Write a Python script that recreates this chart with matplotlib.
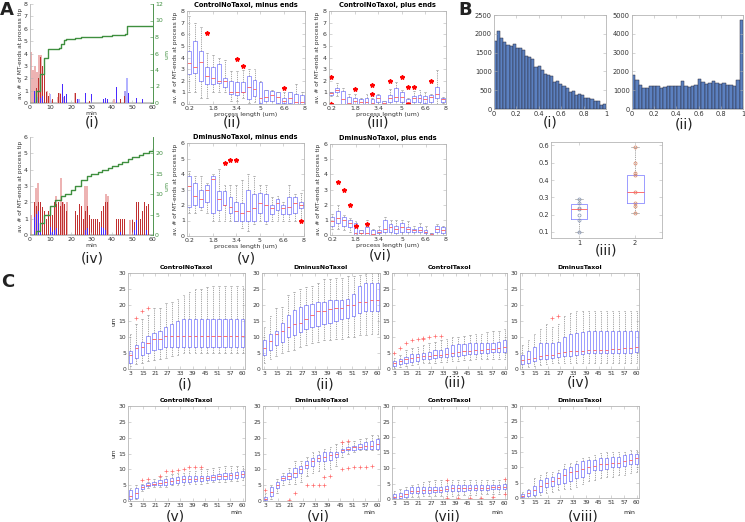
import numpy as np
import matplotlib.pyplot as plt

# ---------------- data ----------------
# A(i) ControlNoTaxol time course (bars per minute, left axis) + green length (right axis, um)
ai_pink_t = [0.5, 1.5, 2.5, 3.5, 4.5, 5.5, 8.5, 9.5, 13.5, 14.5, 16.5, 22.0, 41.0, 46.5]
ai_pink_h = [4.1, 2.7, 3.0, 2.5, 3.9, 3.9, 1.0, 0.8, 0.5, 0.8, 0.5, 0.8, 0.3, 1.0]
ai_red_t = [1, 2, 3, 4, 5, 6, 7, 8, 9, 11, 14, 15, 22, 29, 36, 41, 44, 46]
ai_red_h = [1.0, 0.8, 1.2, 2.0, 3.7, 3.0, 2.3, 0.9, 0.6, 0.3, 0.8, 0.7, 0.8, 0.2, 0.2, 0.3, 0.3, 0.6]
ai_blue_t = [2, 3, 5, 6, 16, 17, 18, 21, 23, 27, 30, 36, 37, 38, 40, 42, 48, 52, 55, 59]
ai_blue_h = [1.0, 0.7, 0.4, 0.6, 1.5, 0.6, 0.7, 0.4, 0.3, 0.8, 0.7, 0.3, 0.4, 0.3, 1.0, 1.3, 0.8, 0.4, 0.3, 0.3]
ai_lblue_t = [4, 10, 24, 46.5, 47.5]
ai_lblue_h = [0.5, 0.7, 0.3, 1.0, 2.0]
ai_len_t = [0, 1.5, 3, 5, 7, 9, 12, 14, 15, 16.5, 17.5, 22, 25, 30, 35, 40, 45, 46.5, 47.5, 55, 60]
ai_len_v = [0, 0, 1.5, 3.5, 5.5, 6.5, 6.6, 6.7, 7.1, 7.6, 7.8, 7.9, 8.0, 8.05, 8.15, 8.3, 8.3, 8.4, 9.3, 9.3, 9.3]

# A(iv) DminusNoTaxol time course
aiv_red_h = [1.0, 2.0, 2.0, 1.8, 2.0, 2.0, 1.7, 1.5, 1.0, 1.5, 1.8, 1.2, 2.0, 1.9, 2.0, 1.8, 2.0, 1.9, 1.5, 1.0,
             2.1, 1.8, 1.5, 1.2, 1.9, 1.8, 1.0, 1.5, 1.8, 1.2, 1.0, 1.0, 1.0, 1.0, 0.8, 1.5, 1.8, 2.0, 2.0, 1.0,
             0.8, 1.0, 1.0, 1.0, 1.0, 1.0, 1.0, 0.0, 0.0, 0.0, 0.9, 0.8, 2.0, 2.0, 1.0, 1.5, 2.0, 1.8, 1.9, 2.0]
aiv_pink_t = [0.5, 3.0, 4.0, 12.5, 15.0, 16.0, 18.0, 27.0, 28.0, 37.0, 38.0, 49.0, 50.0]
aiv_pink_h = [1.2, 2.9, 3.2, 2.4, 3.5, 2.0, 2.0, 3.0, 3.0, 2.5, 2.4, 0.9, 1.0]
aiv_blue_t = [1, 2, 3, 4, 5, 10, 11, 12, 13, 27, 28, 35, 36, 37, 44, 51, 52, 57]
aiv_blue_h = [0.2, 1.1, 1.3, 1.5, 0.3, 0.5, 0.2, 0.3, 0.4, 0.3, 0.4, 0.5, 0.4, 0.3, 0.2, 0.3, 0.9, 0.3]
aiv_len_t = [0, 2, 3, 5, 7, 10, 12, 15, 17, 20, 22, 25, 28, 30, 33, 35, 38, 40, 43, 45, 48, 50, 53, 55, 58, 60]
aiv_len_v = [0, 0, 1, 3, 5, 7, 8.5, 9.5, 10, 11, 12, 13.5, 14.5, 15, 15.5, 16, 16.5, 17, 17.5, 18, 18.5, 19,
             19.5, 20, 20.5, 21]

# A box plots: process length bins
plen = [0.2 + 0.4 * i for i in range(20)]

aii_q1 = [2.6, 2.7, 2.0, 1.7, 1.7, 1.8, 1.5, 0.9, 0.8, 1.0, 0.4, 0.7, 0.1, 0.3, 0.3, 0.1, 0.1, 0.1, 0.0, 0.0]
aii_med = [3.5, 3.2, 3.6, 2.4, 2.2, 2.0, 2.0, 1.0, 1.0, 1.0, 1.5, 1.3, 0.5, 0.6, 0.8, 0.6, 0.3, 0.5, 0.2, 0.2]
aii_q3 = [4.6, 5.4, 4.6, 3.2, 3.2, 3.4, 2.2, 2.0, 1.9, 1.9, 2.4, 2.1, 1.9, 1.2, 1.1, 1.0, 0.5, 1.0, 0.9, 0.8]
aii_lo = [1.0, 1.0, 0.5, 0.5, 1.0, 1.0, 1.0, 0.3, 0.3, 0.5, 0.1, 0.2, 0.0, 0.0, 0.0, 0.0, 0.0, 0.0, 0.0, 0.0]
aii_hi = [7.6, 7.0, 6.6, 4.4, 4.2, 4.0, 3.8, 2.8, 2.8, 2.9, 3.0, 3.0, 2.0, 1.2, 1.2, 1.0, 1.0, 1.0, 1.7, 1.0]
aii_out = {3: [6.1], 8: [3.9], 9: [3.3], 16: [1.4]}

aiii_q1 = [0.8, 1.0, 0.0, 0.0, 0.0, 0.0, 0.0, 0.0, 0.2, 0.0, 0.2, 0.3, 0.2, 0.1, 0.2, 0.2, 0.1, 0.2, 0.5, 0.2]
aiii_med = [0.95, 1.2, 0.4, 0.1, 0.3, 0.2, 0.2, 0.1, 0.5, 0.1, 0.5, 0.6, 0.6, 0.2, 0.5, 0.5, 0.4, 0.6, 0.9, 0.4]
aiii_q3 = [1.0, 1.4, 1.1, 0.6, 0.5, 0.4, 0.5, 0.4, 0.8, 0.3, 0.8, 1.4, 1.0, 0.4, 0.7, 0.8, 0.7, 0.8, 1.5, 0.5]
aiii_lo = [0.7, 0.7, 0.0, 0.0, 0.0, 0.0, 0.0, 0.0, 0.0, 0.0, 0.0, 0.0, 0.0, 0.0, 0.0, 0.0, 0.0, 0.0, 0.0, 0.1]
aiii_hi = [1.0, 1.8, 1.4, 0.9, 0.9, 0.5, 0.9, 0.5, 0.9, 0.3, 1.3, 1.9, 1.2, 0.5, 1.1, 1.2, 1.0, 0.9, 2.9, 0.6]
aiii_out = {0: [2.3, 0.0], 4: [1.3], 7: [1.6, 0.9], 10: [2.0], 12: [2.3], 13: [1.5, 0.0], 14: [1.5], 17: [2.0]}

av_q1 = [1.9, 2.0, 1.9, 2.2, 1.5, 1.7, 2.0, 1.5, 1.0, 1.0, 1.0, 1.0, 1.5, 1.0, 1.4, 1.7, 1.4, 1.4, 1.5, 1.8]
av_med = [3.2, 2.6, 2.4, 3.0, 3.7, 2.4, 2.0, 1.9, 1.6, 1.5, 1.6, 1.8, 2.1, 2.0, 1.8, 2.1, 1.8, 1.9, 2.1, 2.0]
av_q3 = [3.9, 3.4, 3.0, 3.3, 3.9, 2.9, 2.9, 2.5, 2.2, 2.1, 3.0, 2.7, 2.8, 2.7, 2.0, 2.4, 2.0, 2.5, 2.5, 2.2]
av_lo = [1.5, 1.5, 1.7, 1.5, 1.0, 1.0, 1.0, 1.0, 1.0, 0.5, 0.3, 0.8, 1.0, 0.8, 1.0, 1.0, 1.0, 1.0, 1.0, 1.0]
av_hi = [4.2, 3.9, 3.9, 3.4, 4.0, 4.3, 3.3, 3.3, 3.3, 3.6, 4.0, 3.9, 3.3, 3.3, 2.5, 2.6, 2.2, 3.3, 2.7, 2.8]
av_out = {6: [4.7], 7: [4.9], 8: [4.9], 19: [1.0]}

avi_q1 = [0.6, 0.8, 0.6, 0.5, 0.0, 0.1, 0.0, 0.0, 0.1, 0.2, 0.2, 0.1, 0.2, 0.2, 0.2, 0.2, 0.1, 0.0, 0.2, 0.1]
avi_med = [0.9, 1.1, 1.0, 0.8, 0.1, 0.1, 0.1, 0.05, 0.2, 0.4, 0.5, 0.4, 0.5, 0.4, 0.3, 0.3, 0.2, 0.05, 0.4, 0.3]
avi_q3 = [1.2, 1.6, 1.2, 1.0, 0.8, 0.3, 0.5, 0.3, 0.3, 1.0, 0.7, 0.6, 0.8, 0.5, 0.4, 0.5, 0.3, 0.1, 0.6, 0.5]
avi_lo = [0.4, 0.4, 0.3, 0.2, 0.0, 0.0, 0.0, 0.0, 0.0, 0.0, 0.0, 0.0, 0.0, 0.0, 0.0, 0.0, 0.0, 0.0, 0.0, 0.0]
avi_hi = [1.4, 2.0, 1.3, 1.1, 0.9, 0.3, 1.0, 0.4, 0.6, 1.2, 1.0, 1.0, 1.0, 0.9, 0.6, 0.8, 0.6, 0.1, 0.7, 0.6]
avi_out = {1: [3.5], 2: [3.0], 3: [2.0], 4: [0.6], 6: [0.75]}

# B histograms (0..1)
bi_counts = [1800, 2080, 1890, 1780, 1700, 1680, 1730, 1630, 1610, 1560, 1410, 1390, 1340, 1120, 1140, 1050,
             930, 910, 870, 730, 750, 660, 620, 550, 440, 470, 370, 400, 380, 300, 290, 260, 200, 200, 110, 130]
bii_counts = [1800, 1550, 1300, 1100, 1100, 1200, 1200, 1200, 1100, 1150, 1220, 1220, 1250, 1220, 1480, 1250,
              1180, 1200, 1300, 1620, 1450, 1350, 1380, 1500, 1380, 1350, 1380, 1280, 1300, 1220, 1550, 4750]

# B(iii) two groups
biii_q1 = [0.175, 0.27]
biii_med = [0.23, 0.33]
biii_q3 = [0.26, 0.43]
biii_lo = [0.10, 0.21]
biii_hi = [0.29, 0.59]
biii_pts = [[0.10, 0.17, 0.20, 0.23, 0.24, 0.27, 0.29], [0.21, 0.25, 0.27, 0.33, 0.43, 0.44, 0.50, 0.59]]

# C box plots: length (um) vs time (min)
c_ticklabels = ['3', '15', '21', '27', '33', '39', '45', '51', '57', '60']
c_titles = ['ControlNoTaxol', 'DminusNoTaxol', 'ControlTaxol', 'DminusTaxol',
            'ControlNoTaxol', 'DminusNoTaxol', 'ControlTaxol', 'DminusTaxol']

ci = dict(
    med=[4.5, 6.5, 7, 8.2, 9.3, 9.5, 10.2, 10.2, 10.2, 10.2, 10.3, 10.3, 10.3, 10.3, 10.3, 10.3, 10.3, 10.3, 10.3, 10.3],
    q1=[2, 3.5, 4.5, 5, 5.8, 6.2, 6.8, 7, 7, 7, 7, 7, 7, 7, 7, 7, 7, 7, 7, 7],
    q3=[5.5, 7.5, 8.5, 10.2, 11.3, 12, 13.2, 14, 15, 15.6, 15.6, 15.6, 15.6, 15.6, 15.6, 15.6, 15.6, 15.6, 15.6, 15.6],
    hi=[11, 14, 15.5, 17, 19, 19, 20.5, 21, 22, 23, 24, 25, 25, 25.5, 26, 26, 26, 26, 26, 26],
    lo=[1, 1.5, 2, 2.5, 2.8, 3, 3.5, 4, 4.5, 5, 5, 5, 5, 5, 5, 5, 5, 5, 5, 5],
    out={1: [16], 2: [18.2], 3: [19]})
cii = dict(
    med=[6.5, 8.8, 11, 12, 13, 14, 14.5, 15.5, 16.8, 18, 18, 18.6, 19, 19, 20, 20, 21, 21, 21.5, 21.5],
    q1=[4.5, 6, 7.5, 8.5, 10, 10.5, 11.5, 12.5, 13, 13.5, 14, 14.5, 15, 15.5, 16, 16.5, 17.5, 18, 18, 18],
    q3=[9, 10.8, 12, 14.5, 17, 18.5, 19.5, 20, 20.2, 20.8, 21, 21.5, 21.5, 21.5, 22, 23.5, 26, 27, 27, 27],
    hi=[13, 16.5, 19, 19.5, 23, 24, 25, 25.5, 26, 27, 28, 28, 28.5, 28.5, 29, 29, 29.5, 30, 30, 30],
    lo=[2, 3, 4, 5, 5.5, 6, 7, 7.5, 8, 8.5, 9, 9, 9.5, 9.5, 10, 10, 10.5, 10.5, 11, 11],
    out={})
ciii = dict(
    med=[1.8, 2.5, 3, 3.3, 3.6, 4, 4.2, 4.5, 4.5, 4.8, 5, 5.3, 5.5, 5.7, 5.8, 6, 6.2, 6.4, 6.5, 6.8],
    q1=[1, 1.5, 2, 2.2, 2.5, 3, 3.2, 3.5, 3.6, 3.8, 4, 4.2, 4.5, 4.6, 4.8, 5, 5, 5.2, 5.2, 5.3],
    q3=[2.5, 3.2, 3.8, 4.8, 4.8, 5, 5.3, 5.8, 6, 6.5, 7.5, 7.8, 7.8, 8, 8, 8, 8.2, 8.2, 8.5, 9],
    hi=[3.5, 4.5, 5.8, 6.5, 7, 7.5, 8, 8.5, 9, 9.5, 10, 10, 10.3, 10.5, 10.8, 11, 11.5, 12, 12, 12.5],
    lo=[0.3, 0.5, 1, 1.2, 1.5, 2, 2, 2, 2.2, 2.3, 2.5, 2.5, 2.8, 2.8, 3, 3, 3, 3, 3, 3],
    out={0: [5], 1: [6.5], 2: [8.2], 3: [9.2], 4: [9.5], 5: [9.8, 9.3], 6: [10], 7: [10.2], 8: [10.2]})
civ = dict(
    med=[2.8, 3, 3.5, 4, 4.5, 4.5, 5, 5.2, 5.5, 5.6, 5.7, 5.8, 5.8, 6, 6, 6.2, 6.4, 6.5, 6.6, 7],
    q1=[1.5, 1.8, 2.5, 3, 3.2, 3.5, 3.8, 4, 4.2, 4.5, 4.8, 5, 5, 5, 5, 5, 5, 5, 5, 5.2],
    q3=[4.5, 5.5, 7, 8, 8.2, 8.2, 8.5, 10, 11, 11.3, 11.5, 12, 12, 12, 12, 12, 12, 12, 12, 12],
    hi=[7.5, 9, 11, 12.5, 14, 13, 14, 16.5, 17.5, 18, 18, 18, 18, 18, 18, 18, 18, 18, 18, 18],
    lo=[0, 0.5, 1, 1.2, 1.5, 1.8, 2, 2, 2, 2, 2, 2, 2, 2, 2, 2, 2, 2, 2, 2],
    out={5: [16], 6: [16.5]})
cv = dict(
    med=[1.5, 2.5, 4.5, 5.2, 5.5, 5.8, 6, 6.3, 6.5, 6.8, 7, 7, 7.2, 7.3, 7.5, 7.8, 8, 8.2, 8.3, 8.5],
    q1=[0.5, 1, 3.8, 4.8, 5, 5.2, 5.2, 5.5, 5.8, 6, 6, 6.2, 6.3, 6.5, 6.5, 6.8, 7, 7, 7.2, 7.5],
    q3=[3.5, 4, 5, 5.6, 6, 6.5, 6.8, 7.2, 7.5, 7.8, 7.8, 8, 8, 8, 8.2, 8.5, 9, 9, 9.2, 9.5],
    hi=[4.2, 5, 5.5, 6, 7, 7.5, 8, 8.5, 8.8, 9, 9.5, 9.5, 10, 10.2, 10.5, 10.8, 11, 11, 11, 11],
    lo=[0, 0.5, 3.2, 4, 4.5, 4.5, 4.5, 5, 5, 5.2, 5.5, 5.5, 5.5, 5.8, 6, 6, 6, 6.2, 6.2, 6.5],
    out={2: [6.5], 3: [6.8], 5: [8], 6: [9.5], 7: [9.5], 8: [9.8], 9: [10.2], 10: [10.8], 11: [10.8], 12: [10.8]})
cvi = dict(
    med=[0.5, 3, 5, 7.2, 8, 9, 10, 11.5, 12.5, 13.5, 14, 14.5, 15, 16, 16.5, 17, 17, 17.5, 17.5, 18],
    q1=[0.2, 1.5, 4, 6.5, 7, 7.5, 9, 10.5, 11, 12.5, 12.5, 13, 14, 15.5, 16, 16, 16.5, 16.5, 16.5, 16.5],
    q3=[1.2, 4.5, 6, 8, 9, 10.5, 11, 12.5, 13.5, 14.5, 15.5, 15.5, 15.5, 16.5, 17, 17.5, 18, 18.5, 19, 19.5],
    hi=[2.5, 5.2, 7, 9, 10.5, 12.5, 12.5, 14, 15.5, 15.8, 16.3, 17, 18, 18.5, 18.5, 19, 19.5, 20, 21, 21],
    lo=[0, 0.5, 2.5, 5, 5.5, 5.5, 6, 8, 9, 9.5, 10, 10, 11, 14, 15, 15.5, 16, 16, 16, 16],
    out={0: [3.5], 4: [0.3], 5: [2.5], 7: [5], 8: [5], 9: [5], 10: [5, 7.5], 11: [8], 13: [10, 18.5],
         14: [10.5, 18.8], 15: [10.8], 16: [10.8], 17: [10.8], 18: [11]})
cvii = dict(
    med=[0.8, 1, 1.5, 2.5, 2.5, 3, 3, 3, 3, 3.3, 3.4, 3.5, 3.5, 3.5, 3.5, 3.6, 3.7, 3.8, 3.9, 4],
    q1=[0.2, 0.3, 0.5, 1.8, 1.8, 2, 2, 2.2, 2.2, 2.5, 2.5, 2.6, 2.6, 2.8, 2.8, 3, 3, 3.2, 3.2, 3.3],
    q3=[1.5, 1.8, 2.8, 3.8, 3.8, 4, 4, 4, 4, 4.2, 4.5, 4.5, 4.5, 4.5, 4.5, 4.5, 4.5, 4.5, 4.5, 4.8],
    hi=[2.5, 3.2, 4, 4.5, 5, 5.5, 5.8, 6, 6, 6, 6, 6, 6, 6, 6, 6, 6, 6, 6, 6.5],
    lo=[0, 0, 0, 0.5, 0.8, 1, 1, 1, 1, 1, 1, 1.2, 1.2, 1.2, 1.2, 1.5, 1.5, 1.5, 1.5, 1.5],
    out={9: [6.2, 0.3], 11: [0.3], 13: [0.3], 15: [0.3], 17: [0.8], 19: [1.5, 6.5]})
cviii = dict(
    med=[0.5, 1.5, 2.5, 4, 5, 5.5, 6.5, 7.5, 8.5, 8.8, 9.5, 10, 10.5, 11, 11, 11.5, 11.5, 12, 12.5, 13],
    q1=[0.2, 0.5, 1, 2, 3.5, 4, 4.5, 5, 5.5, 6.5, 7, 8, 9, 9, 9.5, 10, 10, 10.5, 11, 11],
    q3=[1.2, 2.5, 4, 6, 6.5, 7, 8, 9.5, 10, 11, 12, 12.5, 12.5, 13, 13, 13.5, 13.5, 14, 14.5, 14.5],
    hi=[1.8, 3, 6.5, 7.5, 8.5, 8.5, 9, 11, 11.5, 12, 13, 13.5, 14, 14.8, 15, 15, 15, 15, 15.5, 15.5],
    lo=[0, 0, 0.5, 1, 1.5, 2, 2.5, 3, 3, 3.5, 4.5, 5.5, 6, 6.5, 7, 7, 7.5, 7.5, 8, 8.5],
    out={})
c_sets = [ci, cii, ciii, civ, cv, cvi, cvii, cviii]

# ---------------- layout helpers ----------------
W, H = 745, 522
fig = plt.figure(figsize=(W / 100, H / 100), dpi=100)

BOXC = '#8c8cff'
MEDC = '#ff5a5a'
GREEN = '#3f8f3f'


def px_axes(x0, y0, x1, y1):
    return fig.add_axes([x0 / W, 1 - y1 / H, (x1 - x0) / W, (y1 - y0) / H])


def style(ax, fs=4.5, mirror=True):
    for s in ax.spines.values():
        s.set_color('#b5b5b5')
        s.set_linewidth(0.6)
    ax.tick_params(direction='in', length=2, width=0.4, labelsize=fs, colors='#b5b5b5',
                   labelcolor='#333333', top=mirror, right=mirror, pad=1.5)


def ftext(x, y, s, size=11, weight='normal', ha='center', color='#222222'):
    fig.text(x / W, 1 - y / H, s, fontsize=size, fontweight=weight, ha=ha, va='center', color=color)


def boxes(ax, pos, q1, med, q3, lo, hi, out, width, star=False):
    stats = []
    for i in range(len(pos)):
        stats.append(dict(q1=q1[i], med=med[i], q3=q3[i], whislo=lo[i], whishi=hi[i],
                          fliers=out.get(i, [])))
    if star:
        fp = dict(marker='*', markerfacecolor='red', markeredgecolor='red', markersize=3.2)
    else:
        fp = dict(marker='+', markeredgecolor='#ff6b6b', markersize=2.6, markeredgewidth=0.5)
    ax.bxp(stats, positions=pos, widths=width, manage_ticks=False,
           boxprops=dict(color=BOXC, lw=0.6),
           medianprops=dict(color=MEDC, lw=0.6),
           whiskerprops=dict(color='#777777', lw=0.45, ls=(0, (2, 1.5))),
           capprops=dict(color='#999999', lw=0.45),
           flierprops=fp)


# ---------------- panel A: time courses ----------------
def time_course(rect, ymax, rmax, rticks, pink_t, pink_h, red_t, red_h, blue_t, blue_h,
                lblue_t, lblue_h, len_t, len_v):
    ax = px_axes(*rect)
    ax.axhline(0, color='#bbbbbb', lw=1.2, zorder=0)
    ax.bar(pink_t, pink_h, width=0.95, color='#e89a9a', alpha=0.75)
    if lblue_t:
        ax.bar(lblue_t, lblue_h, width=0.95, color='#9f9fff', alpha=0.8)
    ax.bar(red_t, red_h, width=0.4, color='#c03030')
    ax.bar(blue_t, blue_h, width=0.4, color='#4a2aff')
    ax.set_xlim(0, 60)
    ax.set_ylim(0, ymax)
    ax.set_xticks(range(0, 61, 10))
    ax.set_yticks(range(0, ymax + 1))
    style(ax, mirror=False)
    ax.spines['top'].set_visible(False)
    ax.set_ylabel('av. # of MT-ends at process tip', fontsize=4.2, labelpad=1, color='#333333')
    ax.set_xlabel('min', fontsize=4.5, labelpad=0.5, color='#333333')
    ax2 = ax.twinx()
    ax2.step(len_t, len_v, where='post', color=GREEN, lw=1.0)
    ax2.set_ylim(0, rmax)
    ax2.set_yticks(rticks)
    for s in ax2.spines.values():
        s.set_visible(False)
    ax2.spines['right'].set_visible(True)
    ax2.spines['right'].set_color(GREEN)
    ax2.spines['right'].set_linewidth(0.6)
    ax2.tick_params(direction='in', length=2, width=0.4, labelsize=4.5, colors=GREEN, pad=1.5)
    ax2.set_ylabel('um', fontsize=4.5, color=GREEN, labelpad=1)
    return ax


time_course((30, 4, 153, 103), 8, 12, range(0, 13, 2), ai_pink_t, ai_pink_h, ai_red_t, ai_red_h,
            ai_blue_t, ai_blue_h, ai_lblue_t, ai_lblue_h, ai_len_t, ai_len_v)
time_course((30, 137, 153, 235), 6, 24, range(0, 21, 5), aiv_pink_t, aiv_pink_h, list(range(60)),
            aiv_red_h, aiv_blue_t, aiv_blue_h, [], [], aiv_len_t, aiv_len_v)


# ---------------- panel A: box plots vs process length ----------------
def length_boxes(rect, ymax, title, q1, med, q3, lo, hi, out):
    ax = px_axes(*rect)
    boxes(ax, plen, q1, med, q3, lo, hi, out, 0.26, star=True)
    ax.set_xlim(0.05, 8)
    ax.set_ylim(0, ymax)
    ax.set_xticks([0.2, 1.8, 3.4, 5, 6.6, 8])
    ax.set_xticklabels(['0.2', '1.8', '3.4', '5', '6.6', '8'])
    ax.set_yticks(range(0, ymax + 1))
    style(ax)
    ax.set_ylabel('av. # of MT-ends at process tip', fontsize=4.2, labelpad=2, color='#333333')
    ax.set_xlabel('process length (um)', fontsize=4.5, labelpad=0.5, color='#333333')
    if title:
        ax.set_title(title, fontsize=4.8, fontweight='bold', pad=3)
    return ax


length_boxes((187, 11, 305, 104), 8, 'ControlNoTaxol, minus ends',
             aii_q1, aii_med, aii_q3, aii_lo, aii_hi, aii_out)
length_boxes((329, 11, 446, 104), 8, 'ControlNoTaxol, plus ends',
             aiii_q1, aiii_med, aiii_q3, aiii_lo, aiii_hi, aiii_out)
length_boxes((187, 143, 304, 236), 6, 'DminusNoTaxol, minus ends',
             av_q1, av_med, av_q3, av_lo, av_hi, av_out)
length_boxes((330, 144, 446, 235), 6, 'DminusNoTaxol, plus ends',
             avi_q1, avi_med, avi_q3, avi_lo, avi_hi, avi_out)

# ---------------- panel B ----------------
for rect, counts, ymax, step in [((494, 15, 606, 109), bi_counts, 2500, 500),
                                 ((632, 15, 743, 109), bii_counts, 5000, 1000)]:
    ax = px_axes(*rect)
    n = len(counts)
    edges = np.linspace(0, 1, n + 1)
    ax.bar(edges[:-1], counts, width=1.0 / n, align='edge', color='#5b80c0',
           edgecolor='#2a2a3a', linewidth=0.35)
    ax.set_xlim(0, 1)
    ax.set_ylim(0, ymax)
    ax.set_xticks([0, 0.2, 0.4, 0.6, 0.8, 1])
    ax.set_xticklabels(['0', '0.2', '0.4', '0.6', '0.8', '1'])
    ax.set_yticks(range(0, ymax + 1, step))
    style(ax, fs=4.8)

ax = px_axes(551, 142, 662, 238)
boxes(ax, [1, 2], biii_q1, biii_med, biii_q3, biii_lo, biii_hi, {}, 0.3)
for i, pts in enumerate(biii_pts):
    ax.plot([i + 1] * len(pts), pts, 'o', ms=2.2, mfc='none', mew=0.5,
            mec='#7f8fb0' if i == 0 else '#d88060')
ax.set_xlim(0.5, 2.48)
ax.set_ylim(0.065, 0.62)
ax.set_xticks([1, 2])
ax.set_yticks([0.1, 0.2, 0.3, 0.4, 0.5, 0.6])
style(ax, fs=4.8)

# ---------------- panel C ----------------
c_rects = [(128, 273, 245, 369), (262, 273, 380, 369), (392, 273, 507, 369), (520, 273, 639, 369),
           (128, 406, 245, 501), (263, 406, 380, 501), (392, 406, 507, 499), (520, 406, 639, 498)]
c_pos = list(range(1, 21))
for k, (rect, d, title) in enumerate(zip(c_rects, c_sets, c_titles)):
    ax = px_axes(*rect)
    boxes(ax, c_pos, d['q1'], d['med'], d['q3'], d['lo'], d['hi'], d['out'], 0.55)
    ax.set_xlim(0.6, 20.4)
    ax.set_ylim(0, 30)
    ax.set_xticks(np.linspace(1, 20, len(c_ticklabels)))
    ax.set_xticklabels(c_ticklabels)
    ax.set_yticks(range(0, 31, 5))
    style(ax, fs=4.3)
    ax.set_title(title, fontsize=4.5, fontweight='bold', pad=3)
    if k in (0, 4):
        ax.set_ylabel('um', fontsize=4.3, labelpad=1, color='#333333')

# ---------------- labels ----------------
ftext(7, 10, 'A', size=13, weight='bold')
ftext(465, 10, 'B', size=13, weight='bold')
ftext(8, 282, 'C', size=13, weight='bold')

for x, y, s in [(92, 123, '(i)'), (232, 123, '(ii)'), (378, 123, '(iii)'),
                (92, 258, '(iv)'), (246, 258, '(v)'), (380, 256, '(vi)'),
                (550, 123, '(i)'), (684, 124, '(ii)'), (606, 250, '(iii)'),
                (185, 385, '(i)'), (325, 385, '(ii)'), (455, 382, '(iii)'), (578, 382, '(iv)'),
                (175, 516, '(v)'), (318, 516, '(vi)'), (447, 516, '(vii)'), (583, 516, '(viii)')]:
    ftext(x, y, s, size=10)

for x in (236, 369, 497, 629):
    ftext(x, 513, 'min', size=4.5)

fig.savefig('out.png', dpi=100)
